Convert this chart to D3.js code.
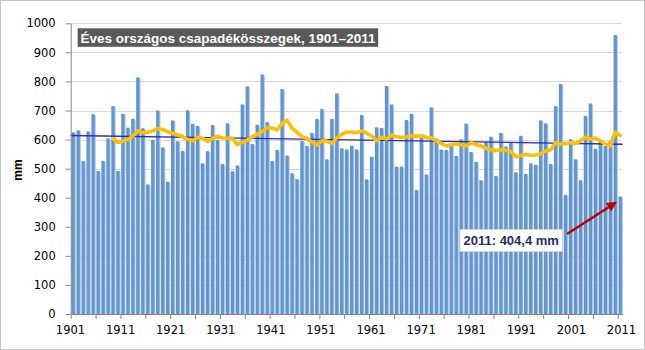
<!DOCTYPE html>
<html>
<head>
<meta charset="utf-8">
<script src="https://cdn.jsdelivr.net/npm/d3@7"></script>
<style>
  html, body { margin: 0; padding: 0; background: #fff; }
  svg { display: block; }
</style>
</head>
<body>
<svg id="chart" width="645" height="350"></svg>
<script>
// Annual national precipitation totals in Hungary (mm), 1901–2011
const years = d3.range(1901, 2012);
const precipitation = [
  625, 632, 526, 628, 687, 492, 527, 604, 715, 492,
  688, 641, 672, 814, 639, 446, 599, 700, 573, 455,
  666, 594, 561, 701, 654, 647, 518, 560, 650, 599,
  516, 656, 491, 511, 721, 783, 585, 651, 824, 660,
  526, 564, 774, 545, 484, 464, 595, 578, 623, 671,
  705, 532, 671, 759, 570, 566, 579, 566, 685, 463,
  541, 642, 640, 784, 721, 507, 507, 667, 688, 427,
  611, 480, 711, 604, 566, 564, 580, 544, 601, 655,
  557, 523, 460, 592, 610, 475, 623, 576, 588, 487,
  613, 482, 518, 513, 666, 656, 516, 715, 791, 410,
  601, 532, 460, 681, 724, 568, 595, 578, 595, 960,
  404.4
];

// Moving average curve, first plotted year 1909
const movingAvgStart = 1909;
const movingAvg = [
  603, 590, 595, 600, 612, 630, 624, 625, 630, 638,
  635, 627, 622, 617, 610, 601, 596, 608, 604, 594,
  603, 612, 606, 604, 604, 583, 590, 598, 610, 618,
  628, 640, 640, 633, 655, 667, 640, 625, 610, 604,
  592, 581, 596, 595, 587, 605, 618, 626, 626, 624,
  630, 622, 613, 596, 607, 602, 615, 610, 608, 609,
  613, 611, 613, 607, 606, 596, 587, 578, 582, 585,
  582, 578, 589, 583, 578, 570, 565, 562, 565, 563,
  558, 541, 545, 549, 546, 547, 551, 561, 564, 589,
  585, 586, 589, 587, 595, 608, 602, 605, 595, 585,
  578, 625, 614
];

// Linear trend, values at the left and right edge of the plot
const trendEnds = [614, 584];

const yTickValues = d3.range(0, 1001, 100);
const xLabelYears = d3.range(1901, 2012, 10);
const xTickYears = d3.range(1901, 2013, 5);

const titleText = "Éves országos csapadékösszegek, 1901–2011";
const axisTitle = "mm";
const noteYear = 2011;
const noteText = "2011: 404,4 mm";

// ---- layout ----
const W = 645, H = 350;
const plot = { left: 70.7, right: 622.7, top: 23.3, bottom: 314 };
const gapRatio = 0.33;

const svg = d3.select("#chart");

svg.append("rect")
  .attr("x", 0.5).attr("y", 0.5)
  .attr("width", W - 1).attr("height", H - 1)
  .attr("fill", "#fff").attr("stroke", "#c8c8c8");

const x = d3.scaleBand()
  .domain(years)
  .range([plot.left, plot.right])
  .paddingInner(gapRatio)
  .paddingOuter(gapRatio / 2);

// continuous view of the same category axis: year N starts at xEdge(N)
const xEdge = d3.scaleLinear()
  .domain([years[0], years[years.length - 1] + 1])
  .range([plot.left, plot.right]);

const xLabel = d3.scaleLinear()
  .domain([xLabelYears[0], xLabelYears[xLabelYears.length - 1]])
  .range([70.5, 621.5]);

const y = d3.scaleLinear().domain([0, 1000]).range([plot.bottom, plot.top]);

const cx = yr => x(yr) + x.bandwidth() / 2;

// gridlines
svg.append("g")
  .selectAll("line")
  .data(yTickValues.filter(v => v > 0))
  .join("line")
  .attr("x1", plot.left).attr("x2", plot.right - 1)
  .attr("y1", d => Math.round(y(d)) + 0.5)
  .attr("y2", d => Math.round(y(d)) + 0.5)
  .attr("stroke", "#d9d9d9")
  .attr("stroke-width", 1);

// bars with a soft shadow
const bars = svg.append("g");
bars.selectAll("rect.shadow")
  .data(years)
  .join("rect")
  .attr("class", "shadow")
  .attr("x", d => x(d) + 1.1)
  .attr("y", (d, i) => y(precipitation[i]) + 1)
  .attr("width", x.bandwidth())
  .attr("height", (d, i) => plot.bottom - y(precipitation[i]) - 1)
  .attr("fill", "#c5c7da");
bars.selectAll("rect.bar")
  .data(years)
  .join("rect")
  .attr("class", "bar")
  .attr("x", d => x(d))
  .attr("y", (d, i) => y(precipitation[i]))
  .attr("width", x.bandwidth())
  .attr("height", (d, i) => plot.bottom - y(precipitation[i]))
  .attr("fill", "#5f98d1");

// linear trend
svg.append("line")
  .attr("x1", plot.left).attr("x2", plot.right)
  .attr("y1", y(trendEnds[0])).attr("y2", y(trendEnds[1]))
  .attr("stroke", "#2b2bbf")
  .attr("stroke-width", 1.3);

// moving average
const maYears = movingAvg.map((v, i) => movingAvgStart + i);
svg.append("path")
  .datum(movingAvg)
  .attr("fill", "none")
  .attr("stroke", "#ffc000")
  .attr("stroke-width", 3.6)
  .attr("stroke-linejoin", "round")
  .attr("stroke-linecap", "round")
  .attr("d", d3.line()
    .x((d, i) => cx(maYears[i]))
    .y(d => y(d)));

// y axis
const yAxis = svg.append("g")
  .attr("transform", `translate(${plot.left},0)`)
  .call(d3.axisLeft(y).tickValues(yTickValues).tickFormat(d3.format("d"))
    .tickSize(5).tickPadding(10).tickSizeOuter(0));
yAxis.select(".domain").attr("stroke", "#868686");
yAxis.selectAll(".tick line").attr("stroke", "#868686");
yAxis.selectAll(".tick text")
  .attr("font-family", "'DejaVu Sans', Verdana, sans-serif")
  .attr("font-size", "11.5px")
  .attr("fill", "#000");

// x axis: ticks every five categories
const xAxis = svg.append("g")
  .attr("transform", `translate(0,${plot.bottom})`)
  .call(d3.axisBottom(xEdge).tickValues(xTickYears).tickSize(5).tickSizeOuter(0).tickFormat(""));
xAxis.select(".domain").attr("stroke", "#868686");
xAxis.selectAll(".tick line").attr("stroke", "#868686");

svg.append("g")
  .selectAll("text")
  .data(xLabelYears)
  .join("text")
  .attr("x", d => xLabel(d))
  .attr("y", 334)
  .attr("text-anchor", "middle")
  .attr("font-family", "'DejaVu Sans', Verdana, sans-serif")
  .attr("font-size", "11.5px")
  .attr("fill", "#000")
  .text(d => d);

// axis title
svg.append("text")
  .attr("transform", "translate(22,170) rotate(-90)")
  .attr("text-anchor", "middle")
  .attr("font-family", "'Liberation Sans', Arial, sans-serif")
  .attr("font-weight", "bold")
  .attr("font-size", "12px")
  .text(axisTitle);

// title box
const titleG = svg.append("g");
const titleRect = titleG.append("rect")
  .attr("x", 77.7).attr("y", 28.3).attr("height", 18.5)
  .attr("fill", "#595959");
const title = titleG.append("text")
  .attr("x", 80.5).attr("y", 42.5)
  .attr("font-family", "'Liberation Sans', Arial, sans-serif")
  .attr("font-weight", "bold")
  .attr("font-size", "13.5px")
  .attr("fill", "#fff")
  .text(titleText);
titleRect.attr("width", title.node().getComputedTextLength() + 5.5);

// note with arrow pointing at the 2011 bar
const noteValue = precipitation[years.indexOf(noteYear)];
const tipX = cx(noteYear) - 5, tipY = y(noteValue) + 6.5;

svg.append("defs").append("marker")
  .attr("id", "arrowHead")
  .attr("viewBox", "0 0 10 10")
  .attr("refX", 8).attr("refY", 5)
  .attr("markerWidth", 4.2).attr("markerHeight", 4.2)
  .attr("orient", "auto")
  .append("path")
  .attr("d", "M0,0 L10,5 L0,10 z")
  .attr("fill", "#c00000");

svg.append("line")
  .attr("x1", 567).attr("y1", 234)
  .attr("x2", tipX).attr("y2", tipY)
  .attr("stroke", "#c00000")
  .attr("stroke-width", 2.4)
  .attr("marker-end", "url(#arrowHead)");

const noteG = svg.append("g");
const noteRect = noteG.append("rect")
  .attr("x", 460).attr("y", 229.5).attr("height", 22)
  .attr("fill", "#fff")
  .attr("stroke", "#d4d4d4")
  .attr("stroke-width", 0.8);
const note = noteG.append("text")
  .attr("x", 463.5).attr("y", 245)
  .attr("font-family", "'Liberation Sans', Arial, sans-serif")
  .attr("font-weight", "bold")
  .attr("font-size", "13px")
  .attr("fill", "#1f2e6b")
  .text(noteText);
noteRect.attr("width", note.node().getComputedTextLength() + 7);
</script>
</body>
</html>
